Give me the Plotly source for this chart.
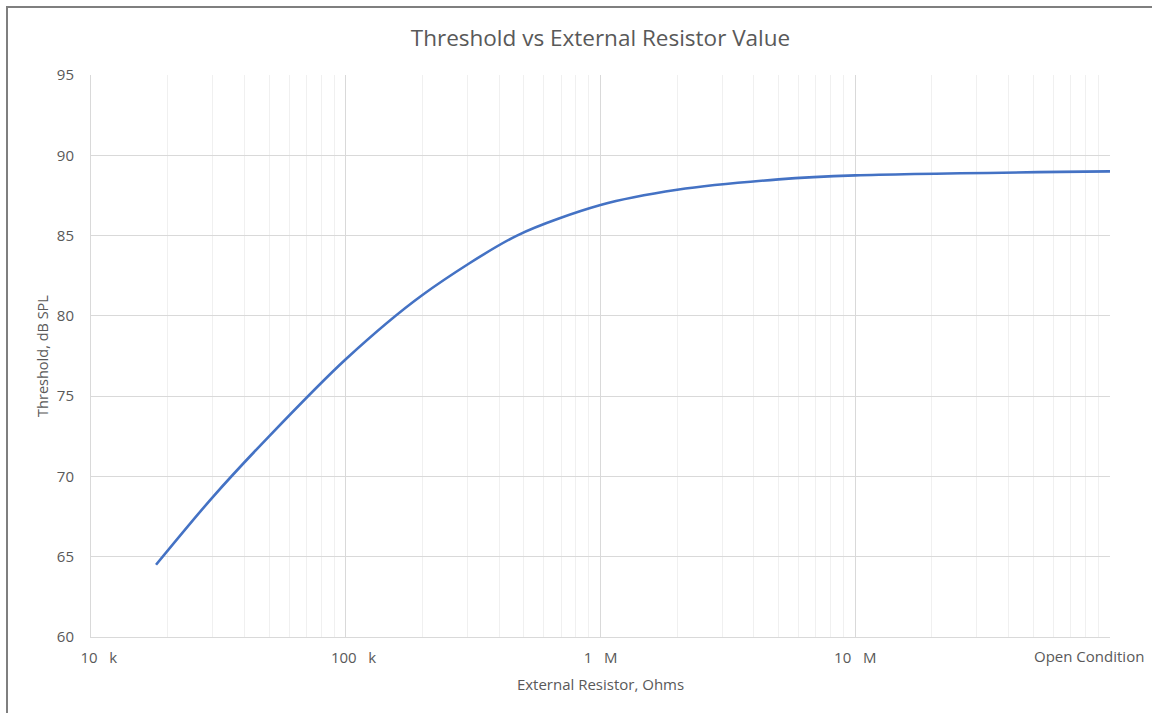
import numpy as np
import plotly.graph_objects as go

# Data
resistor_ohms = [18e3, 30e3, 50e3, 100e3, 200e3, 470e3, 1e6, 2e6, 5e6, 10e6, 100e6]
threshold_db = [64.5, 68.7, 72.5, 77.3, 81.3, 85.0, 86.9, 87.85, 88.5, 88.75, 89.0]

major_tickvals = [1e4, 1e5, 1e6, 1e7, 1e8]
major_ticktext = ["\u00a0\u00a0\u00a0\u00a010\u00a0\u00a0\u00a0k", "\u00a0\u00a0\u00a0\u00a0100\u00a0\u00a0\u00a0k",
                  "1\u00a0\u00a0\u00a0M", "10\u00a0\u00a0\u00a0M", ""]
open_label = "Open Condition"
y_tickvals = [60, 65, 70, 75, 80, 85, 90, 95]

minor_vals = [m * 10 ** d for d in range(4, 8) for m in range(2, 10)]

grey_text = "#595959"
font_family = "Open Sans, Segoe UI, sans-serif"

fig = go.Figure()
fig.add_trace(go.Scatter(
    x=resistor_ohms, y=threshold_db, mode="lines",
    line=dict(color="#4472C4", width=2.6, shape="spline", smoothing=0.8),
    hoverinfo="x+y", showlegend=False,
))

fig.update_layout(
    width=1152, height=713,
    margin=dict(l=91, r=42, t=75, b=76, autoexpand=False),
    paper_bgcolor="white", plot_bgcolor="white",
    title=dict(text="Threshold vs External Resistor Value", x=0.5, xref="paper",
               y=1 - 38 / 713, yref="container", yanchor="middle",
               font=dict(family=font_family, size=22.5, color=grey_text)),
    font=dict(family=font_family, color=grey_text, size=14),
)

fig.update_xaxes(
    type="log", range=[4, 8], tickmode="array",
    tickvals=major_tickvals, ticktext=major_ticktext,
    showgrid=True, gridcolor="#d9d9d9", gridwidth=1,
    showline=True, linecolor="#d9d9d9", linewidth=1, mirror=False,
    ticks="", ticklabelstandoff=7, automargin=False,
    tickfont=dict(size=15, color=grey_text),
    minor=dict(tickmode="array", tickvals=minor_vals, showgrid=True,
               gridcolor="#f0f0f0", gridwidth=1, ticks=""),
    title=dict(text="External Resistor, Ohms", standoff=13,
               font=dict(size=15, color=grey_text)),
    zeroline=False,
)
fig.update_yaxes(
    range=[60, 95], tickmode="array", tickvals=y_tickvals,
    showgrid=True, gridcolor="#d9d9d9", gridwidth=1,
    showline=True, linecolor="#d9d9d9", linewidth=1,
    ticks="", ticklabelstandoff=13, automargin=False,
    tickfont=dict(size=15, color=grey_text),
    title=dict(text="Threshold, dB SPL", standoff=4,
               font=dict(size=14.5, color=grey_text)),
    zeroline=False,
)

# last x tick label, right-aligned so it stays inside the chart
fig.add_annotation(
    x=8, xref="x", y=0, yref="paper", text=open_label, showarrow=False,
    xanchor="right", yanchor="top", xshift=36, yshift=-7,
    font=dict(family=font_family, size=15, color=grey_text),
)

# chart frame
fig.add_shape(type="rect", xref="paper", yref="paper",
              x0=(7 - 91) / 1019, x1=1.2, y0=-0.3, y1=(637 - 7) / 562,
              line=dict(color="#7f7f7f", width=2), fillcolor="rgba(0,0,0,0)",
              layer="below")

fig.write_html("out.html", config={"displayModeBar": False},
               post_script="document.body.style.margin='0';document.body.style.overflow='hidden';")
